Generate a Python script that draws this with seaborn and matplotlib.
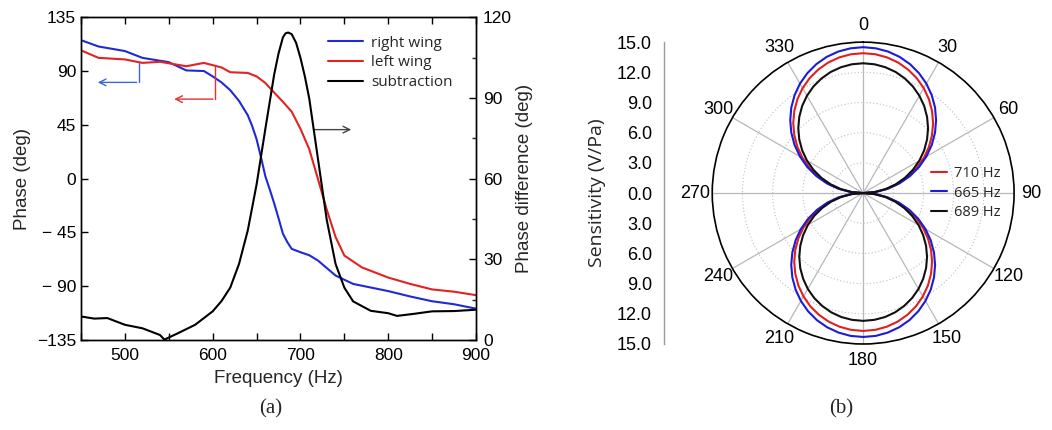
import numpy as np
import matplotlib
matplotlib.use("Agg")
import matplotlib.pyplot as plt
import seaborn as sns
from matplotlib.lines import Line2D
from matplotlib.ticker import MultipleLocator, FixedLocator

sns.set_theme(style="white")
plt.rcParams["font.family"] = ["Liberation Sans", "DejaVu Sans"]

# ---------------- (a) phase response of the two wings ----------------
freq_right = [450, 470, 500, 520, 550, 570, 590, 600, 610, 620, 630, 640, 645,
              650, 655, 660, 665, 670, 675, 680, 685, 690, 700, 710, 720, 740,
              760, 780, 800, 825, 850, 875, 900]
phase_right = [115.8, 110.5, 106.7, 101.0, 97.4, 90.5, 90.0, 85.5, 80.5, 74.0,
               65.0, 53.0, 44.0, 33.0, 18.0, 2.0, -9.0, -20.5, -33.0, -46.0,
               -53.0, -58.7, -61.5, -64.0, -68.5, -81.0, -88.0, -91.0, -94.0,
               -98.5, -102.5, -105.0, -108.7]

freq_left = [450, 470, 500, 520, 540, 570, 590, 610, 620, 640, 650, 660, 670,
             680, 690, 700, 710, 720, 730, 740, 750, 770, 800, 825, 850, 875,
             900]
phase_left = [107.3, 101.0, 99.7, 96.8, 97.7, 94.0, 96.8, 93.0, 89.0, 88.4,
              85.5, 80.0, 72.0, 64.3, 56.0, 41.7, 24.7, -0.5, -26.0, -48.8,
              -64.3, -74.2, -82.7, -88.0, -92.6, -94.5, -97.4]

freq_diff = [450, 465, 480, 500, 520, 540, 545, 560, 580, 600, 610, 620, 630,
             640, 650, 660, 670, 675, 680, 683, 686, 690, 695, 700, 705, 710,
             720, 730, 740, 750, 760, 780, 800, 810, 830, 850, 875, 900]
phase_diff = [8.8, 8.0, 8.2, 5.7, 4.4, 1.9, 0.2, 2.5, 5.7, 10.7, 14.5, 19.5,
              28.3, 40.8, 57.8, 78.5, 98.6, 106.5, 112.5, 114.0, 114.3, 113.7,
              110.5, 104.9, 98.0, 89.8, 67.2, 44.6, 28.3, 19.5, 14.4, 10.9,
              10.0, 9.0, 9.8, 10.7, 10.8, 11.3]

# ---------------- (b) directivity at three frequencies ----------------
# sensitivity of each lobe from the lobe axis (0 deg) out to 90 deg, 5 deg steps
lobe_angle = np.arange(0, 95, 5)
front_710 = [13.9, 13.85, 13.69, 13.43, 13.06, 12.60, 12.04, 11.39, 10.65, 9.83,
             8.93, 7.97, 6.95, 5.87, 4.75, 3.60, 2.41, 1.21, 0.0]
back_710 = [13.7, 13.65, 13.49, 13.23, 12.87, 12.42, 11.86, 11.22, 10.49, 9.69,
            8.81, 7.86, 6.85, 5.79, 4.69, 3.55, 2.38, 1.19, 0.0]
front_665 = [14.5, 14.44, 14.28, 14.01, 13.63, 13.14, 12.56, 11.88, 11.11,
             10.25, 9.32, 8.32, 7.25, 6.13, 4.96, 3.75, 2.52, 1.26, 0.0]
back_665 = [14.3, 14.25, 14.08, 13.81, 13.44, 12.96, 12.38, 11.71, 10.95, 10.11,
            9.19, 8.20, 7.15, 6.04, 4.89, 3.70, 2.48, 1.25, 0.0]
front_689 = [12.9, 12.85, 12.70, 12.46, 12.12, 11.69, 11.17, 10.57, 9.88, 9.12,
             8.29, 7.40, 6.45, 5.45, 4.41, 3.34, 2.24, 1.12, 0.0]
back_689 = [12.7, 12.65, 12.51, 12.27, 11.93, 11.51, 11.00, 10.40, 9.73, 8.98,
            8.16, 7.28, 6.35, 5.37, 4.34, 3.29, 2.21, 1.11, 0.0]

polar_series = [("710 Hz", front_710, back_710, "#e02020"),
                ("665 Hz", front_665, back_665, "#1c1cd8"),
                ("689 Hz", front_689, back_689, "#111111")]

phase_ticks = [-135, -90, -45, 0, 45, 90, 135]
phase_ticklabels = ["\u2212135", "\u2212 90", "\u2212 45", "0", "45", "90", "135"]
scale_ticks = [-15, -12, -9, -6, -3, 0, 3, 6, 9, 12, 15]
scale_ticklabels = ["15.0", "12.0", "9.0", "6.0", "3.0", "0.0", "3.0", "6.0",
                    "9.0", "12.0", "15.0"]


def full_pattern(front, back):
    """Closed figure-eight: front lobe from -90 to 90 deg, back lobe 90 to 270."""
    a = np.asarray(lobe_angle, float)
    f = np.asarray(front, float)
    b = np.asarray(back, float)
    th_front = np.concatenate([-a[::-1], a[1:]])
    r_front = np.concatenate([f[::-1], f[1:]])
    th_back = 180 + th_front
    r_back = np.concatenate([b[::-1], b[1:]])
    return np.deg2rad(np.concatenate([th_front, th_back[1:]])), \
        np.concatenate([r_front, r_back[1:]])


BLUE = "#1f2ad6"
RED = "#e42222"
FS = 12.5

fig = plt.figure(figsize=(10.52, 4.30), dpi=100)
fig.patch.set_facecolor("white")

# ---- left panel ----
ax = fig.add_axes([0.077, 0.209, 0.3755, 0.751])
ax2 = ax.twinx()
sns.lineplot(x=freq_right, y=phase_right, ax=ax, color=BLUE, lw=1.5)
sns.lineplot(x=freq_left, y=phase_left, ax=ax, color=RED, lw=1.5)
sns.lineplot(x=freq_diff, y=phase_diff, ax=ax2, color="black", lw=1.5)

ax.set_xlim(450, 900)
ax.set_ylim(-135, 135)
ax2.set_ylim(0, 120)
ax.set_yticks(phase_ticks)
ax.set_yticklabels(phase_ticklabels)
ax.xaxis.set_major_locator(FixedLocator([500, 600, 700, 800, 900]))
ax.xaxis.set_minor_locator(FixedLocator([450, 550, 650, 750, 850]))
ax2.set_yticks([0, 30, 60, 90, 120])
ax2.yaxis.set_minor_locator(MultipleLocator(15))
for a in (ax, ax2):
    for s in a.spines.values():
        s.set_color("black")
        s.set_linewidth(1.0)
    a.set_facecolor("none")
ax.tick_params(axis="both", which="both", direction="in", labelsize=FS,
               colors="black", length=5, width=1.0, top=True, bottom=True,
               left=True, right=False)
ax.tick_params(axis="x", which="both", pad=6)
ax2.tick_params(axis="y", which="major", direction="in", length=5, width=1.0,
                labelsize=FS, colors="black", right=True, pad=5)
ax2.tick_params(axis="y", which="minor", direction="in", length=3, width=1.0,
                right=True)
ax.set_xlabel("Frequency (Hz)", fontsize=FS + 1, labelpad=5)
ax.set_ylabel("Phase (deg)", fontsize=FS + 1, labelpad=4)
ax2.set_ylabel("Phase difference (deg)", fontsize=FS + 1, labelpad=3)

# axis pointers
ax.plot([516, 516], [97, 80.5], color="#3b68d8", lw=1.0)
ax.annotate("", xy=(466, 80.5), xytext=(516.5, 80.5),
            arrowprops=dict(arrowstyle="->", color="#3b68d8", lw=1.0))
ax.plot([603, 603], [93, 66.5], color="#e53030", lw=1.0)
ax.annotate("", xy=(553, 66.5), xytext=(603.5, 66.5),
            arrowprops=dict(arrowstyle="->", color="#e53030", lw=1.0))
ax.annotate("", xy=(761, 41), xytext=(712, 41),
            arrowprops=dict(arrowstyle="->", color="#444444", lw=1.0))

handles = [Line2D([], [], color=BLUE, lw=1.5),
           Line2D([], [], color=RED, lw=1.5),
           Line2D([], [], color="black", lw=1.5)]
ax.legend(handles, ["right wing", "left wing", "subtraction"],
          loc="upper right", bbox_to_anchor=(0.975, 0.985), frameon=False,
          handlelength=2.3, handletextpad=0.5, labelspacing=0.3,
          prop={"family": ["Open Sans", "DejaVu Sans"], "size": 11})

# ---- right panel ----
pax = fig.add_axes([0.677, 0.200, 0.287, 0.702], projection="polar")
pax.set_theta_zero_location("N")
pax.set_theta_direction(-1)
for label, front, back, col in polar_series:
    th, r = full_pattern(front, back)
    sns.lineplot(x=th, y=r, ax=pax, color=col, lw=1.5, sort=False, label=label)
pax.set_ylim(0, 15)
pax.set_yticks([3, 6, 9, 12])
pax.set_yticklabels([])
pax.set_xticks(np.deg2rad(np.arange(0, 360, 30)))
pax.set_xticklabels([str(v) for v in range(0, 360, 30)], fontsize=FS + 0.5)
pax.xaxis.set_minor_locator(FixedLocator(np.deg2rad(np.arange(15, 360, 30))))
pax.tick_params(axis="x", which="major", pad=5, direction="in", length=5,
                width=1.0, colors="black")
pax.tick_params(axis="x", which="minor", direction="in", length=4, width=1.0,
                colors="black")
pax.xaxis.grid(True, color="#b8b8b8", lw=0.9, ls="-")
pax.yaxis.grid(True, color="#c0c0c0", lw=0.8, ls=(0, (1, 2)))
pax.spines["polar"].set_color("black")
pax.spines["polar"].set_linewidth(1.2)
pax.set_facecolor("white")
pax.set_xlabel("")
pax.set_ylabel("")
pax.legend(loc="center left", bbox_to_anchor=(0.68, 0.5), frameon=False,
           handlelength=1.1, handletextpad=0.5, labelspacing=0.3,
           prop={"family": ["Open Sans", "DejaVu Sans"], "size": 10.5})

# linear sensitivity scale beside the polar plot
sax = fig.add_axes([0.631, 0.200, 0.0005, 0.702])
sax.set_ylim(-15, 15)
sax.set_yticks(scale_ticks)
sax.set_yticklabels(scale_ticklabels)
sax.yaxis.set_minor_locator(MultipleLocator(0.75))
sax.set_xticks([])
for side in ("top", "right", "bottom"):
    sax.spines[side].set_visible(False)
sax.spines["left"].set_color("#9a9a9a")
sax.spines["left"].set_linewidth(1.0)
sax.tick_params(axis="y", which="major", direction="out", length=5, width=1.0,
                color="#9a9a9a", labelcolor="black", labelsize=FS + 0.5)
sax.tick_params(axis="y", which="minor", direction="out", length=2.5,
                width=0.8, color="#9a9a9a")
sax.set_ylabel("Sensitivity (V/Pa)", fontsize=FS + 1.5, labelpad=8,
               family=["Open Sans", "DejaVu Sans"])
sax.set_facecolor("none")

# panel captions
fig.text(0.257, 0.050, "(a)", ha="center", va="center", fontsize=15,
         family=["Liberation Serif", "DejaVu Serif"])
fig.text(0.800, 0.050, "(b)", ha="center", va="center", fontsize=15,
         family=["Liberation Serif", "DejaVu Serif"])

fig.savefig("out.png", dpi=100, facecolor="white")
